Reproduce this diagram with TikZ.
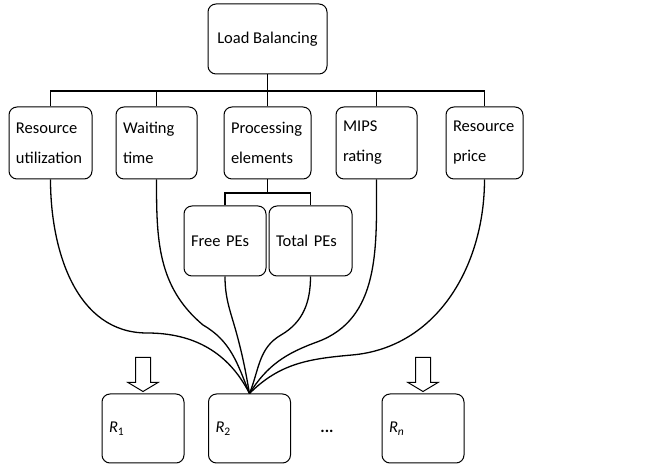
\documentclass[tikz,border=0pt]{standalone}
\usepackage{fontspec}
\setmainfont{Carlito}
\usetikzlibrary{shapes.geometric, arrows}
\tikzstyle{box} = [rectangle, rounded corners=8pt, draw=black, line width=1pt, inner xsep=7pt, inner ysep=0pt, font=\fontsize{16.5}{30}\selectfont]
\tikzstyle{criterion} = [box, minimum height=72pt, align=left]
\tikzstyle{pebox} = [box, minimum height=70pt, minimum width=82pt, align=left]
\tikzstyle{resource} = [box, minimum height=69pt, text width=68pt, align=left]
\tikzstyle{tree} = [line width=1.8pt]
\tikzstyle{link} = [line width=1.3pt]
\tikzstyle{blockarrow} = [draw=black, line width=1pt, fill=white]

\begin{document}
\begin{tikzpicture}[x=1pt, y=1pt]

    \useasboundingbox (0,0) rectangle (672,468);

    % Nodes
    \node (lb) [box, minimum width=119pt, minimum height=70pt] at (267.5,429) {Load Balancing};
    \node (ru) [criterion, text width=69pt] at (50.5,325) {Resource\\utilization};
    \node (wt) [criterion, text width=67pt] at (156.5,325) {Waiting\\time};
    \node (pe) [criterion, text width=73pt] at (267.5,325) {Processing\\elements};
    \node (mips) [criterion, text width=67pt] at (376.5,325) {MIPS\\rating};
    \node (rp) [criterion, text width=63pt] at (484.5,325) {Resource\\price};
    \node (free) [pebox, text width=68pt] at (225,227) {Free PEs};
    \node (total) [pebox, text width=69pt] at (310.5,227) {Total PEs};
    \node (r1) [resource] at (143,39.5) {\textit{R}\textsubscript{1}};
    \node (r2) [resource] at (249.5,39.5) {\textit{R}\textsubscript{2}};
    \node (rn) [resource] at (423,39.5) {\textit{R\textsubscript{n}}};
    \node (dots) [font=\fontsize{16.5}{30}\selectfont\bfseries] at (327,37) {...};

    \coordinate (bus) at (267.5,377);
    \coordinate (pebus) at (267.5,275);

    % Tree
    \draw [tree] (lb) -- (bus);
    \draw [tree] (ru.north) |- (bus) -| (rp.north);
    \draw [tree] (wt.north) -- (wt.north |- bus);
    \draw [tree] (pe.north) -- (bus);
    \draw [tree] (mips.north) -- (mips.north |- bus);
    \draw [tree] (pe.south) -- (pebus);
    \draw [tree] (free.north) |- (pebus) -| (total.north);

    % Links
    \draw [link] (ru.south) to[out=-90, in=180] (147,135) to[out=0, in=117] (r2.north);
    \draw [link] (wt.south) to[out=-90, in=140] (203,143) to[out=-30, in=112] (r2.north);
    \draw [link] (free.south) to[out=-90, in=105] (237,133) to[out=-75, in=100] (r2.north);
    \draw [link] (total.south) to[out=-90, in=30] (281,133) to[out=-150, in=68] (r2.north);
    \draw [link] (mips.south) to[out=-90, in=20] (317,126) to[out=-160, in=58] (r2.north);
    \draw [link] (rp.south) to[out=-90, in=5] (352,113) to[out=-175, in=45] (r2.north);

    % Arrows
    \draw [blockarrow, shift={(r1.north)}] (0,2) -- (-15,11) -- (-7.5,11) -- (-7.5,36) -- (7.5,36) -- (7.5,11) -- (15,11) -- cycle;
    \draw [blockarrow, shift={(rn.north)}] (0,2) -- (-15,11) -- (-7.5,11) -- (-7.5,36) -- (7.5,36) -- (7.5,11) -- (15,11) -- cycle;

\end{tikzpicture}
\end{document}
